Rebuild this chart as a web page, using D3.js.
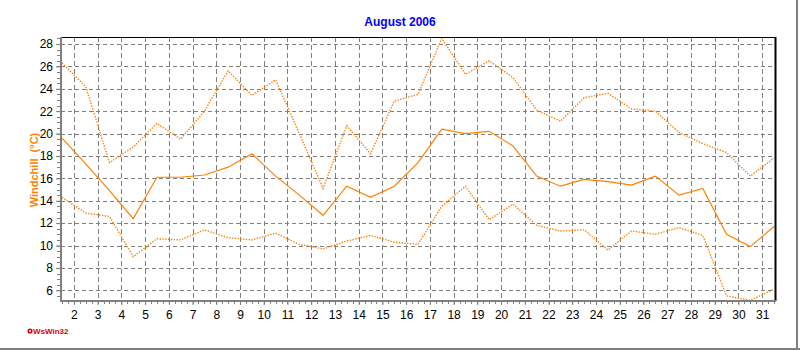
<!DOCTYPE html>
<html>
<head>
<meta charset="utf-8">
<script src="https://cdn.jsdelivr.net/npm/d3@7/dist/d3.min.js"></script>
<style>
  html, body { margin: 0; padding: 0; background: #ffffff; }
  svg { display: block; }
  text { font-family: Arial, "Liberation Sans", sans-serif; }
</style>
</head>
<body>
<svg id="chart" width="800" height="350"></svg>
<script>
// ---- data (Windchill, August 2006) ----
const days = [1,2,3,4,5,6,7,8,9,10,11,12,13,14,15,16,17,18,19,20,21,22,23,24,25,26,27,28,29,30,31];
const maxVals  = [26.3, 24.2, 17.4, 18.8, 20.9, 19.5, 22.0, 25.6, 23.4, 24.8, 20.0, 15.1, 20.7, 18.2, 22.9, 23.5, 28.5, 25.3, 26.5, 25.0, 22.1, 21.1, 23.2, 23.6, 22.2, 22.0, 20.1, 19.1, 18.3, 16.2, 17.8];
const meanVals = [19.6, 17.3, 14.9, 12.4, 16.1, 16.1, 16.3, 17.0, 18.2, 16.2, 14.5, 12.7, 15.3, 14.3, 15.3, 17.4, 20.4, 20.0, 20.2, 18.9, 16.2, 15.3, 15.9, 15.7, 15.4, 16.2, 14.5, 15.1, 11.0, 9.9, 11.7];
const minVals  = [14.3, 12.9, 12.6, 9.0, 10.6, 10.5, 11.4, 10.7, 10.5, 11.1, 10.1, 9.7, 10.4, 10.9, 10.3, 10.1, 13.5, 15.3, 12.3, 13.7, 11.8, 11.3, 11.4, 9.6, 11.3, 11.0, 11.6, 10.9, 5.5, 5.1, 6.1];
const xTickLabels = ["2","3","4","5","6","7","8","9","10","11","12","13","14","15","16","17","18","19","20","21","22","23","24","25","26","27","28","29","30","31"];
const yTickValues = [6,8,10,12,14,16,18,20,22,24,26,28];
const titleText = "August 2006";
const yLabelText = "Windchill  (°C)";

// ---- layout ----
const svg = d3.select("#chart");
const plotL = 61, plotR = 775, plotT = 37, plotB = 301;
const orange = "#FF8000";
const grey = "#808080";

const x = d3.scaleLinear().domain([1.5, 31.5]).range([62, 774]);
const y = d3.scaleLinear().domain([6, 28]).range([290.3, 44]);

// background
svg.append("rect").attr("x",0).attr("y",0).attr("width",800).attr("height",350).attr("fill","#fff");

// gridlines
const grid = svg.append("g");
grid.selectAll("line.h").data(yTickValues).join("line")
  .attr("x1", plotL).attr("x2", plotR)
  .attr("y1", d => Math.round(y(d)) + 0.5).attr("y2", d => Math.round(y(d)) + 0.5)
  .attr("stroke", grey).attr("stroke-width", 1).attr("stroke-dasharray", "4,3");
grid.selectAll("line.v").data(xTickLabels).join("line")
  .attr("x1", d => Math.round(x(+d)) + 0.5).attr("x2", d => Math.round(x(+d)) + 0.5)
  .attr("y1", plotT).attr("y2", plotB)
  .attr("stroke", grey).attr("stroke-width", 1).attr("stroke-dasharray", "5,3");

// lines
const line = d3.line().x((d, i) => x(days[i] + 0.5)).y(d => y(d));
svg.append("path").datum(maxVals).attr("d", line).attr("fill","none")
  .attr("stroke", orange).attr("stroke-width", 1.4).attr("stroke-dasharray", "1.4,1.4");
svg.append("path").datum(minVals).attr("d", line).attr("fill","none")
  .attr("stroke", orange).attr("stroke-width", 1.4).attr("stroke-dasharray", "1.4,1.4");
svg.append("path").datum(meanVals).attr("d", line).attr("fill","none")
  .attr("stroke", orange).attr("stroke-width", 1.2);

// frame: top & right black, left & bottom grey axes
svg.append("line").attr("x1", plotL).attr("x2", plotR + 1).attr("y1", plotT + 0.5).attr("y2", plotT + 0.5)
  .attr("stroke", "#000").attr("stroke-width", 1);
svg.append("line").attr("x1", plotR + 0.5).attr("x2", plotR + 0.5).attr("y1", plotT).attr("y2", plotB)
  .attr("stroke", "#000").attr("stroke-width", 2);

// y axis
const yAxis = d3.axisLeft(y).tickValues(yTickValues).tickSize(4).tickPadding(3).tickFormat(d3.format("d"));
const yAxisG = svg.append("g").attr("transform", `translate(${plotL - 1},0)`).call(yAxis);
yAxisG.select(".domain").remove();
yAxisG.selectAll(".tick line").attr("stroke", grey);
yAxisG.selectAll(".tick text").attr("font-size", 12).attr("fill", "#000")
  .attr("font-family", "Arial, 'Liberation Sans', sans-serif");
// minor y ticks
const yMinor = d3.range(5.5, 28.6, 0.5).filter(v => y(v) <= plotB && y(v) >= plotT);
svg.append("g").selectAll("line").data(yMinor).join("line")
  .attr("x1", plotL - 4).attr("x2", plotL - 1)
  .attr("y1", d => Math.round(y(d)) + 0.5).attr("y2", d => Math.round(y(d)) + 0.5)
  .attr("stroke", grey).attr("stroke-width", 1);
svg.append("line").attr("x1", plotL).attr("x2", plotL).attr("y1", plotT).attr("y2", plotB + 1)
  .attr("stroke", grey).attr("stroke-width", 2);

// x axis
const xAxis = d3.axisBottom(x).tickValues(xTickLabels.map(Number)).tickSize(4).tickPadding(5).tickFormat(d => String(d));
const xAxisG = svg.append("g").attr("transform", `translate(0,${plotB})`).call(xAxis);
xAxisG.select(".domain").remove();
xAxisG.selectAll(".tick line").attr("stroke", grey);
xAxisG.selectAll(".tick text").attr("font-size", 12).attr("fill", "#000")
  .attr("font-family", "Arial, 'Liberation Sans', sans-serif");
const xMinor = d3.range(1.5, 31.51, 0.25);
svg.append("g").selectAll("line").data(xMinor).join("line")
  .attr("x1", d => Math.round(x(d)) + 0.5).attr("x2", d => Math.round(x(d)) + 0.5)
  .attr("y1", plotB).attr("y2", plotB + 3)
  .attr("stroke", grey).attr("stroke-width", 1);
svg.append("line").attr("x1", plotL - 1).attr("x2", plotR + 1).attr("y1", plotB).attr("y2", plotB)
  .attr("stroke", grey).attr("stroke-width", 2);

// title
svg.append("text").attr("x", 400).attr("y", 26).attr("text-anchor", "middle")
  .attr("font-size", 12).attr("font-weight", "bold").attr("fill", "#0000FF")
  .text(titleText);

// y label
svg.append("text").attr("transform", "translate(38,170) rotate(-90)").attr("text-anchor", "middle")
  .attr("xml:space", "preserve").style("white-space", "pre")
  .attr("font-size", 11).attr("font-weight", "bold").attr("fill", orange)
  .text(yLabelText);

// WsWin32 mark
svg.append("circle").attr("cx", 30).attr("cy", 331).attr("r", 1.8)
  .attr("fill", "#fff").attr("stroke", "#e00000").attr("stroke-width", 1.5);
svg.append("text").attr("x", 33).attr("y", 334).attr("font-size", 8).attr("font-weight", "bold")
  .attr("fill", "#e00000").text("WsWin32");

// outer frame (right & bottom)
svg.append("line").attr("x1", 797).attr("x2", 797).attr("y1", 0).attr("y2", 350).attr("stroke", grey).attr("stroke-width", 2);
svg.append("line").attr("x1", 0).attr("x2", 800).attr("y1", 349).attr("y2", 349).attr("stroke", grey).attr("stroke-width", 2);
</script>
</body>
</html>
